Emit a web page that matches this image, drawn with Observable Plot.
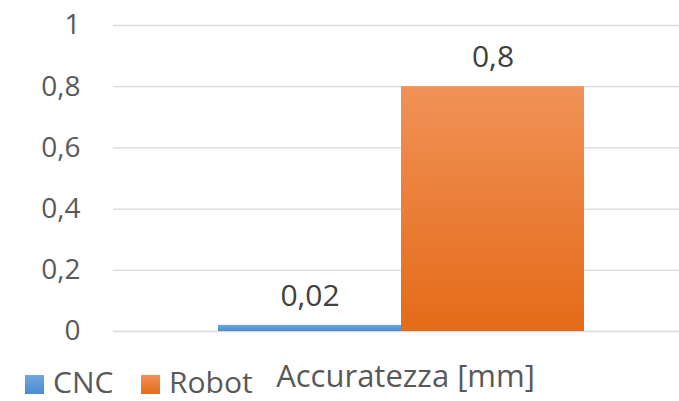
<!DOCTYPE html>
<html>
<head>
<meta charset="utf-8">
<script src="https://cdn.jsdelivr.net/npm/d3@7"></script>
<script src="https://cdn.jsdelivr.net/npm/@observablehq/plot@0.6"></script>
<style>
  html, body { margin: 0; padding: 0; background: #fff; }
  #wrap { position: relative; width: 679px; height: 401px; overflow: hidden; font-family: "Open Sans", "Noto Sans", sans-serif; }
  #chart svg { max-width: none !important; }
  #legend { position: absolute; left: 0; top: 356px; }
</style>
</head>
<body>
<div id="wrap">
  <div id="chart"></div>
  <svg id="legend" width="300" height="45"></svg>
</div>
<script>
const series = ["CNC", "Robot"];
const values = [0.02, 0.8];
const category = "Accuratezza [mm]";
const yTicks = [0, 0.2, 0.4, 0.6, 0.8, 1];
const gradIds = ["gradCNC", "gradRobot"];
const gradColors = [["#70A7E0", "#4A8AD0"], ["#F19157", "#E46B18"]];

const data = series.map((s, i) => ({series: s, value: values[i], grad: gradIds[i]}));
const fmt = v => String(v).replace(".", ",");

const plot = Plot.plot({
  width: 689,
  height: 401,
  marginLeft: 113,
  marginRight: 0,
  marginTop: 25,
  marginBottom: 70,
  style: {fontFamily: '"Open Sans", "Noto Sans", sans-serif', fontSize: "28px", color: "#595959", background: "#fff", maxWidth: "none"},
  x: {domain: series, paddingInner: 0, paddingOuter: 0.5695, axis: null},
  y: {domain: [0, 1], ticks: yTicks, tickFormat: fmt},
  marks: [
    Plot.gridY(yTicks, {stroke: "#d9d9d9", strokeOpacity: 1, strokeWidth: 1.3}),
    Plot.axisY(yTicks, {tickSize: 0, tickPadding: 33, tickFormat: fmt, label: null, fontSize: 28, fill: "#595959"}),
    ...data.map(d => Plot.barY([d], {x: "series", y: "value", fill: `url(#${d.grad})`, inset: 0, style: "filter:url(#shadow)"})),
    Plot.text(data, {x: "series", y: "value", text: d => fmt(d.value), dy: -29, fontSize: 30, fill: "#404040"}),
    Plot.text([category], {frameAnchor: "bottom", dx: 4, dy: 55, text: d => d, fontSize: 31, fill: "#595959", style: "letter-spacing:0.6px"})
  ]
});

const svg = d3.select(plot);
const defs = svg.insert("defs", ":first-child");
gradIds.forEach((id, i) => {
  const g = defs.append("linearGradient").attr("id", id).attr("x1", 0).attr("y1", 0).attr("x2", 0).attr("y2", 1);
  g.append("stop").attr("offset", "0%").attr("stop-color", gradColors[i][0]);
  g.append("stop").attr("offset", "100%").attr("stop-color", gradColors[i][1]);
});
const f = defs.append("filter").attr("id", "shadow").attr("x", "-10%").attr("y", "-10%").attr("width", "130%").attr("height", "130%");
f.append("feDropShadow").attr("dx", 2).attr("dy", 1).attr("stdDeviation", 2).attr("flood-color", "#000").attr("flood-opacity", 0.25);

document.getElementById("chart").appendChild(plot);

// legend
const lg = d3.select("#legend");
const ldefs = lg.append("defs");
gradIds.forEach((id, i) => {
  const g = ldefs.append("linearGradient").attr("id", "l" + id).attr("x1", 0).attr("y1", 0).attr("x2", 0).attr("y2", 1);
  g.append("stop").attr("offset", "0%").attr("stop-color", gradColors[i][0]);
  g.append("stop").attr("offset", "100%").attr("stop-color", gradColors[i][1]);
});
const lx = [25, 141];
series.forEach((s, i) => {
  lg.append("rect").attr("x", lx[i]).attr("y", 19).attr("width", 19).attr("height", 19).attr("fill", `url(#l${gradIds[i]})`);
  lg.append("text").attr("x", lx[i] + 28).attr("y", 37).attr("font-size", 30).attr("fill", "#595959")
    .attr("font-family", '"Open Sans", "Noto Sans", sans-serif').text(s);
});
</script>
</body>
</html>
